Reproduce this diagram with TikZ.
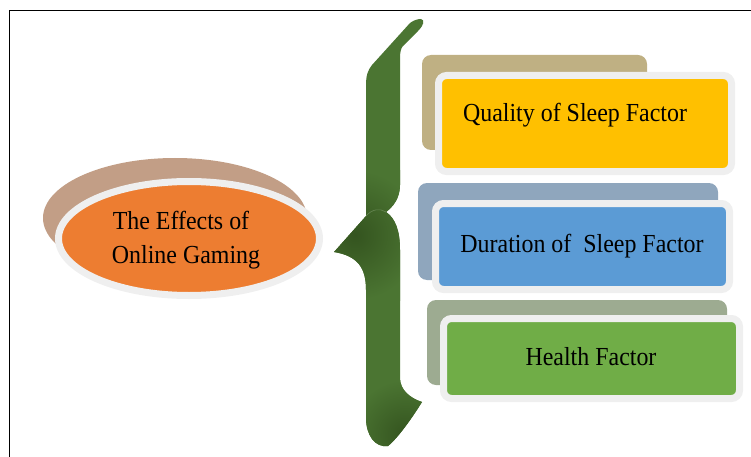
\documentclass[tikz,border=0pt]{standalone}
\usepackage{fontspec}
\setmainfont{Liberation Serif}
\usetikzlibrary{shapes.geometric}

\definecolor{rim}{HTML}{EFEFEF}
\definecolor{tanback}{HTML}{C29E86}
\definecolor{orangefill}{HTML}{ED7D31}
\definecolor{qback}{HTML}{BFB083}
\definecolor{qfill}{HTML}{FFC000}
\definecolor{dback}{HTML}{8FA6BD}
\definecolor{dfill}{HTML}{5B9BD5}
\definecolor{hback}{HTML}{9DAB91}
\definecolor{hfill}{HTML}{70AD47}
\definecolor{bracegreen}{HTML}{4B7532}
\definecolor{bracedark}{HTML}{34541F}

% condensed serif lettering
\newcommand{\narrowtext}[1]{\scalebox{0.92}[1]{#1}}

\tikzset{
  backbox/.style={rectangle, rounded corners=9pt, inner sep=0pt, draw=none},
  frontbox/.style={rectangle, rounded corners=8pt, draw=rim, line width=7pt, inner sep=0pt},
  backoval/.style={ellipse, inner sep=0pt, draw=none, fill=tanback},
  frontoval/.style={ellipse, inner sep=0pt, draw=rim, line width=7pt, fill=orangefill},
  lettering/.style={font=\fontsize{26}{30}\selectfont, anchor=base, inner sep=0pt, text=black},
}

\begin{document}
\begin{tikzpicture}[x=1pt, y=-1pt]
\useasboundingbox (0,0) rectangle (751,457);

% frame lines along the top and left edge
\coordinate (frameBL) at (9.5,457);
\coordinate (frameTL) at (9.5,10.5);
\coordinate (frameTR) at (751,10.5);
\draw[line width=1.5pt] (frameBL) -- (frameTL) -- (frameTR);

% central oval
\node[backoval, minimum width=264pt, minimum height=120pt] (ovalBack) at (175,218) {};
\node[frontoval, minimum width=261pt, minimum height=114pt] (ovalFront) at (189,238.5) {};
\node[lettering] (ovalTxtA) at (181,229) {\narrowtext{The Effects of}};
\node[lettering] (ovalTxtB) at (186,263) {\narrowtext{Online Gaming}};

% the curly brace
\def\bracepath{
  (421,19) .. controls (425,20) and (424,25) .. (418,31)
  -- (403,46) .. controls (401,48) and (400,52) .. (400,58)
  -- (400,185) .. controls (400,198) and (393,207) .. (386,212)
  .. controls (395,218) and (400,230) .. (400,250)
  -- (400,378) .. controls (400,390) and (410,398) .. (422,402)
  .. controls (412,418) and (398,438) .. (388,446)
  .. controls (375,448) and (366,435) .. (366,418)
  -- (366,290) .. controls (366,268) and (358,256) .. (334,252)
  -- (366,216) -- (366,85)
  .. controls (366,75) and (368,70) .. (372,65)
  -- (410,23) .. controls (414,20) and (418,19) .. (421,19) -- cycle}
\fill[bracegreen] \bracepath;
\begin{scope}
  \clip \bracepath;
  % darker fold where the two halves meet, and at the lower tip
  \clip (300,0) rectangle (430,460);
  \shade[inner color=bracedark, outer color=bracegreen]
    (290,170) rectangle (420,300);
  \shade[inner color=bracedark, outer color=bracegreen]
    (350,380) rectangle (460,490);
\end{scope}
% light seam between the two halves of the brace
\draw[bracegreen!70!white, line width=0.6pt, opacity=0.6]
  (366,216) .. controls (372,209) and (380,208) .. (386,212);

% quality of sleep
\node[backbox, fill=qback, minimum width=225pt, minimum height=95pt] (qualityBack) at (534.5,102.5) {};
\node[frontbox, fill=qfill, minimum width=293pt, minimum height=96pt] (quality) at (585,123.5) {};
\node[lettering] (qualityTxt) at (575,122) {\narrowtext{Quality of Sleep Factor}};

% duration of sleep
\node[backbox, fill=dback, minimum width=300pt, minimum height=97pt] (durationBack) at (568,231.5) {};
\node[frontbox, fill=dfill, minimum width=294pt, minimum height=86pt] (duration) at (582.5,246.5) {};
\node[lettering] (durationTxt) at (582,252) {\narrowtext{Duration of~\ Sleep Factor}};

% health
\node[backbox, fill=hback, minimum width=300pt, minimum height=85pt] (healthBack) at (577,342.5) {};
\node[frontbox, fill=hfill, minimum width=296pt, minimum height=80pt] (health) at (591.5,358.5) {};
\node[lettering] (healthTxt) at (591,365) {\narrowtext{Health Factor}};
\end{tikzpicture}
\end{document}
